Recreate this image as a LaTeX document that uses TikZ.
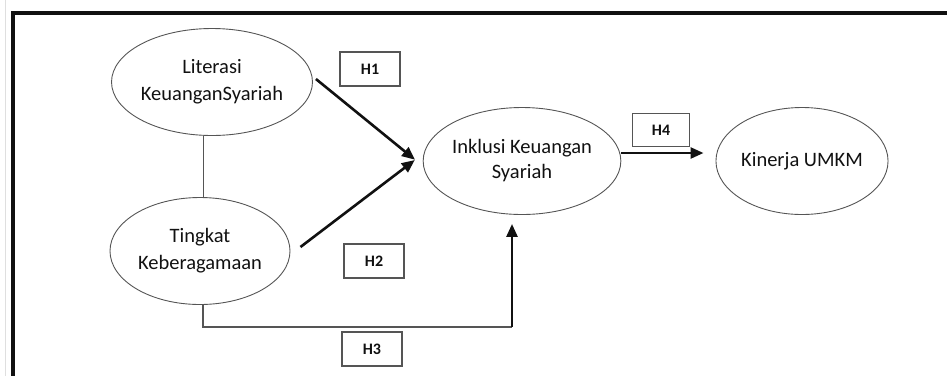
\documentclass[tikz,border=0pt]{standalone}
\usepackage{fontspec}
\setmainfont{Carlito}
\usetikzlibrary{arrows.meta, shapes.geometric}

\definecolor{ink}{HTML}{111111}
\definecolor{line}{HTML}{555555}

\begin{document}
\begin{tikzpicture}[
  x=1pt, y=-1pt,
  font=\fontsize{20.5}{25}\selectfont,
  var/.style={ellipse, draw=line, line width=0.9pt, inner sep=0pt,
              minimum width=180pt, minimum height=107pt, align=center, text=ink},
  hyp/.style={draw=line, line width=1.2pt, inner sep=0pt, minimum width=60pt,
              minimum height=34pt, font=\fontsize{16}{18}\selectfont\bfseries, text=ink},
  link/.style={-{Triangle[length=13pt, width=11pt]}, draw=ink, line width=2.6pt}
]
  \useasboundingbox (0,0) rectangle (947,376);
  % frame
  \draw[gray!25, line width=1pt] (5,0) -- (5,376);
  \draw[ink, line width=3.5pt] (947,13) -- (13,13) -- (13,376);

  \node[var, font=\fontsize{20.5}{27}\selectfont] (lit) at (212,82) {Literasi\\KeuanganSyariah};
  \node[var, font=\fontsize{20.5}{27}\selectfont] (ting) at (200,251) {Tingkat\\Keberagamaan};
  \node[var, minimum width=190pt] (inkl) at (522,161) {Inklusi Keuangan\\Syariah};
  \node[var, minimum width=172pt] (kin) at (802,161) {Kinerja UMKM};

  \node[hyp] (h1) at (370,69) {H1};
  \node[hyp] (h2) at (374,261) {H2};
  \node[hyp] (h3) at (372,349) {H3};
  \node[hyp, minimum width=57pt, minimum height=33pt] (h4) at (661,130) {H4};

  \draw[line, line width=1pt] (lit.south -| 203,0) -- (ting.north -| 203,0);

  \draw[link, shorten >=10pt] ([xshift=3pt, yshift=3pt]lit.east) -- ([yshift=-5pt]inkl.west);
  \draw[link, shorten >=10pt] ([xshift=10pt, yshift=4pt]ting.east) -- ([yshift=7pt]inkl.west);
  \coordinate (c3) at (512,327);
  \draw[line, line width=1.4pt] ([xshift=3pt]ting.south) |- (c3);
  \draw[link, shorten >=9pt] (c3) -- (c3 |- inkl.south);
  \draw[link, shorten >=12pt] ([yshift=8pt]inkl.east) -- ([yshift=8pt]kin.west);
\end{tikzpicture}
\end{document}
